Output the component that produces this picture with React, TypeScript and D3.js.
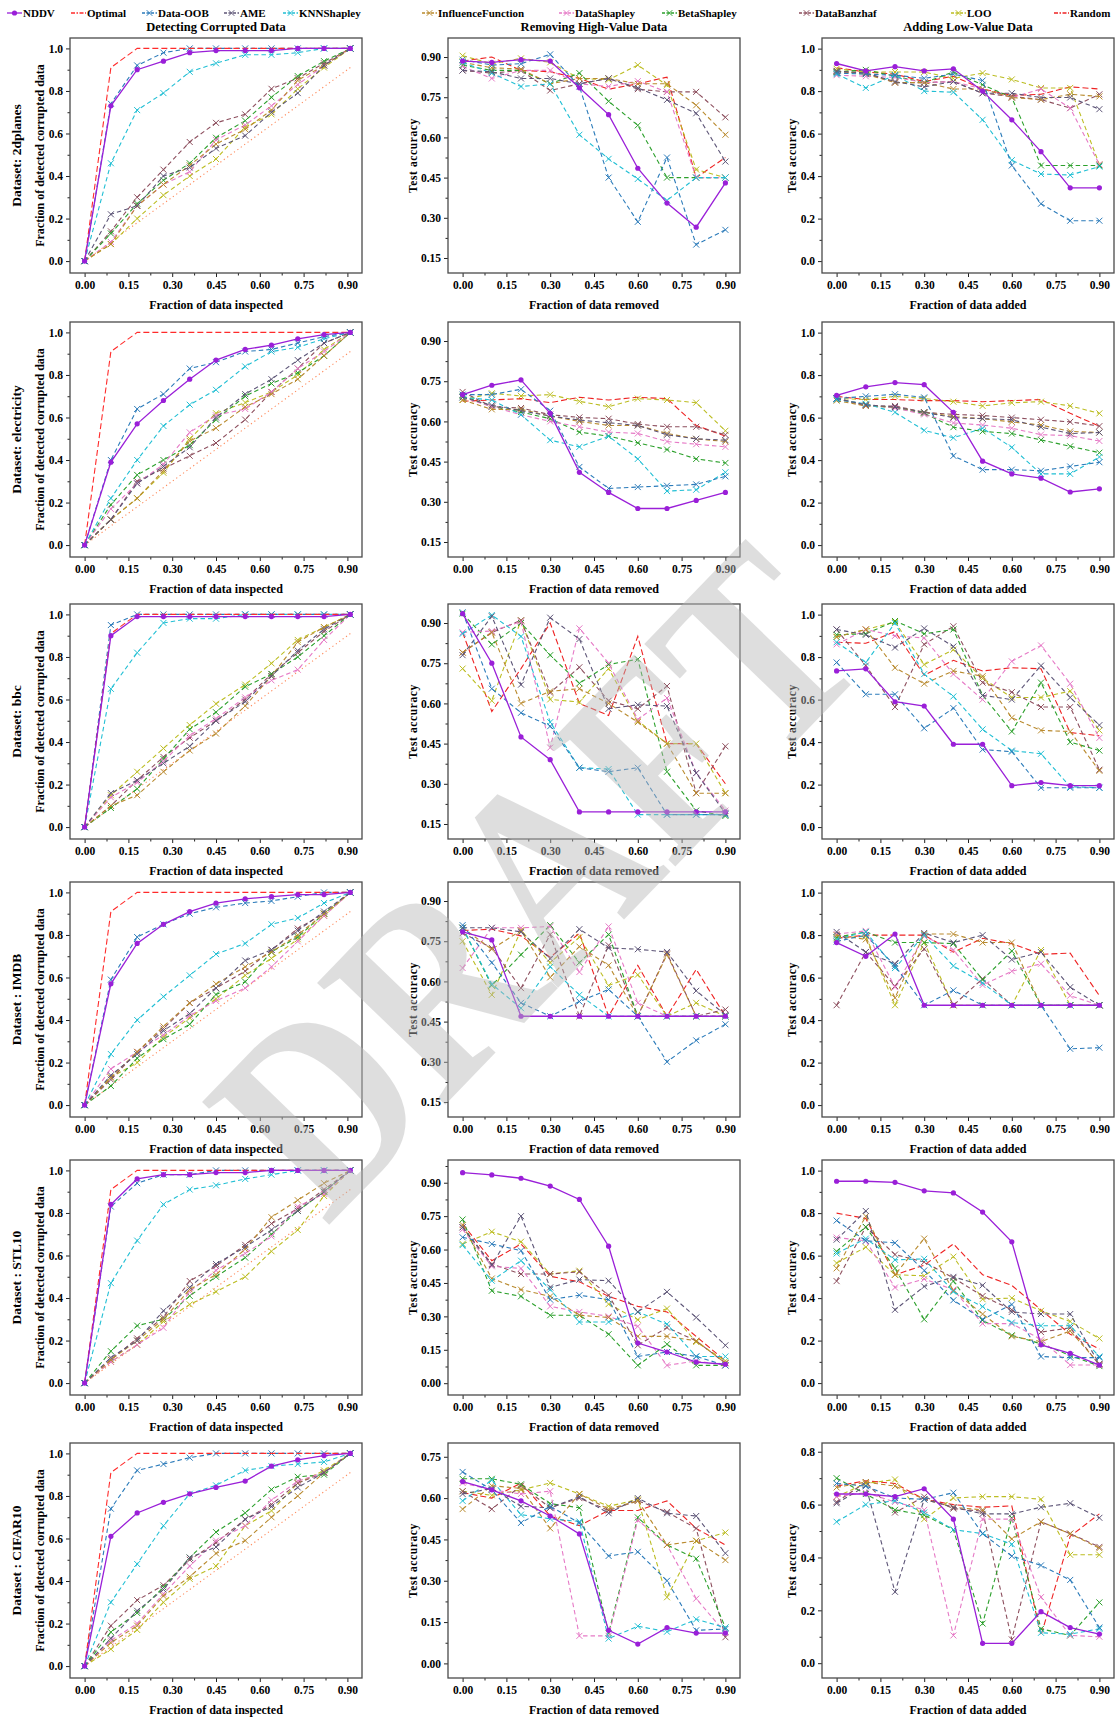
import React, { useEffect, useRef } from 'react';
import * as d3 from 'd3';

// methods, in legend order
const methods = ['NDDV', 'Optimal', 'Data-OOB', 'AME', 'KNNShapley', 'InfluenceFunction', 'DataShapley', 'BetaShapley', 'DataBanzhaf', 'LOO', 'Random'];
const methodColors = ['#9a1fd8', '#ff2b2b', '#2b7bba', '#5d5577', '#21bfd4', '#b98a2e', '#e679c6', '#2ca02c', '#8d4f5e', '#bcbd22', '#ee2222'];
const drawOrder = ['Random', 'LOO', 'DataBanzhaf', 'BetaShapley', 'DataShapley', 'InfluenceFunction', 'KNNShapley', 'AME', 'Data-OOB', 'Optimal', 'NDDV'];

const taskTitles = ['Detecting Corrupted Data', 'Removing High-Value Data', 'Adding Low-Value Data'];
const xTitles = ['Fraction of data inspected', 'Fraction of data removed', 'Fraction of data added'];
const datasetLabels = ['Dataset: 2dplanes', 'Dataset: electricity', 'Dataset: bbc', 'Dataset : IMDB', 'Dataset : STL10', 'Dataset : CIFAR10'];

const xDetect = [0, 0.09, 0.18, 0.27, 0.36, 0.45, 0.55, 0.64, 0.73, 0.82, 0.91];
const xFraction = [0, 0.1, 0.2, 0.3, 0.4, 0.5, 0.6, 0.7, 0.8, 0.9];
const xTicks = [0, 0.15, 0.3, 0.45, 0.6, 0.75, 0.9];
const yTicksUnit = [0, 0.2, 0.4, 0.6, 0.8, 1.0];
const yTicksAcc = [0.15, 0.3, 0.45, 0.6, 0.75, 0.9];
const yTicksAccZero = [0, 0.15, 0.3, 0.45, 0.6, 0.75, 0.9];
const yTicksAcc75 = [0, 0.15, 0.3, 0.45, 0.6, 0.75];
const yTicksAdd8 = [0, 0.2, 0.4, 0.6, 0.8];

const optimalCurve = [0, 0.91, 1, 1, 1, 1, 1, 1, 1, 1, 1];
const randomCurve = [0, 0.09, 0.18, 0.27, 0.36, 0.45, 0.55, 0.64, 0.73, 0.82, 0.91];

// ---- 2dplanes ----
const detect2dplanes = {
  NDDV: [0, 0.73, 0.9, 0.94, 0.98, 0.99, 0.99, 0.99, 1, 1, 1],
  Optimal: optimalCurve,
  'Data-OOB': [0, 0.74, 0.92, 0.98, 1, 1, 1, 1, 1, 1, 1],
  AME: [0, 0.22, 0.26, 0.4, 0.44, 0.53, 0.59, 0.7, 0.79, 0.92, 1],
  KNNShapley: [0, 0.46, 0.71, 0.79, 0.89, 0.93, 0.97, 0.97, 0.98, 1, 1],
  InfluenceFunction: [0, 0.08, 0.26, 0.36, 0.45, 0.55, 0.62, 0.71, 0.85, 0.92, 1],
  DataShapley: [0, 0.09, 0.26, 0.36, 0.42, 0.57, 0.64, 0.73, 0.83, 0.92, 1],
  BetaShapley: [0, 0.13, 0.27, 0.38, 0.46, 0.58, 0.66, 0.77, 0.87, 0.94, 1],
  DataBanzhaf: [0, 0.14, 0.3, 0.43, 0.56, 0.65, 0.69, 0.81, 0.86, 0.93, 1],
  LOO: [0, 0.08, 0.2, 0.31, 0.4, 0.48, 0.63, 0.69, 0.81, 0.91, 1],
  Random: randomCurve,
};
const remove2dplanes = {
  NDDV: [0.885, 0.88, 0.89, 0.885, 0.785, 0.685, 0.485, 0.355, 0.265, 0.43],
  'Data-OOB': [0.89, 0.87, 0.875, 0.91, 0.79, 0.45, 0.285, 0.525, 0.2, 0.255],
  AME: [0.85, 0.845, 0.82, 0.82, 0.8, 0.82, 0.785, 0.74, 0.69, 0.51],
  KNNShapley: [0.88, 0.84, 0.79, 0.8, 0.61, 0.52, 0.445, 0.365, 0.45, 0.45],
  InfluenceFunction: [0.88, 0.86, 0.855, 0.8, 0.82, 0.82, 0.8, 0.8, 0.72, 0.61],
  DataShapley: [0.865, 0.82, 0.85, 0.85, 0.8, 0.79, 0.81, 0.77, 0.45, 0.45],
  BetaShapley: [0.87, 0.85, 0.85, 0.8, 0.84, 0.735, 0.645, 0.45, 0.45, 0.45],
  DataBanzhaf: [0.85, 0.84, 0.85, 0.775, 0.8, 0.82, 0.78, 0.77, 0.77, 0.675],
  LOO: [0.905, 0.875, 0.895, 0.88, 0.82, 0.815, 0.87, 0.795, 0.48, 0.45],
  Random: [0.885, 0.9, 0.85, 0.845, 0.82, 0.78, 0.8, 0.825, 0.45, 0.525],
};
const add2dplanes = {
  NDDV: [0.93, 0.895, 0.915, 0.895, 0.905, 0.8, 0.665, 0.515, 0.345, 0.345],
  'Data-OOB': [0.885, 0.88, 0.875, 0.86, 0.88, 0.85, 0.45, 0.27, 0.19, 0.19],
  AME: [0.895, 0.885, 0.845, 0.82, 0.845, 0.79, 0.79, 0.77, 0.77, 0.715],
  KNNShapley: [0.88, 0.815, 0.875, 0.8, 0.795, 0.665, 0.475, 0.41, 0.405, 0.445],
  InfluenceFunction: [0.895, 0.88, 0.84, 0.84, 0.81, 0.81, 0.77, 0.76, 0.785, 0.775],
  DataShapley: [0.875, 0.87, 0.865, 0.84, 0.845, 0.81, 0.77, 0.81, 0.72, 0.455],
  BetaShapley: [0.89, 0.9, 0.87, 0.84, 0.89, 0.83, 0.77, 0.45, 0.45, 0.45],
  DataBanzhaf: [0.89, 0.885, 0.84, 0.84, 0.845, 0.79, 0.775, 0.76, 0.72, 0.785],
  LOO: [0.905, 0.89, 0.89, 0.89, 0.86, 0.885, 0.855, 0.815, 0.815, 0.455],
  Random: [0.91, 0.89, 0.88, 0.845, 0.87, 0.81, 0.78, 0.785, 0.82, 0.81],
};

// ---- electricity ----
const detectElectricity = {
  NDDV: [0, 0.39, 0.57, 0.68, 0.78, 0.87, 0.92, 0.94, 0.97, 0.99, 1],
  Optimal: optimalCurve,
  'Data-OOB': [0, 0.4, 0.64, 0.71, 0.83, 0.86, 0.91, 0.92, 0.95, 0.98, 1],
  AME: [0, 0.12, 0.29, 0.37, 0.46, 0.6, 0.71, 0.78, 0.87, 0.95, 1],
  KNNShapley: [0, 0.22, 0.4, 0.56, 0.66, 0.73, 0.84, 0.91, 0.93, 0.97, 1],
  InfluenceFunction: [0, 0.12, 0.22, 0.35, 0.49, 0.55, 0.65, 0.71, 0.78, 0.89, 1],
  DataShapley: [0, 0.17, 0.29, 0.38, 0.53, 0.61, 0.64, 0.72, 0.83, 0.91, 1],
  BetaShapley: [0, 0.19, 0.33, 0.4, 0.47, 0.59, 0.7, 0.76, 0.81, 0.89, 1],
  DataBanzhaf: [0, 0.12, 0.3, 0.36, 0.42, 0.48, 0.59, 0.72, 0.83, 0.95, 1],
  LOO: [0, 0.12, 0.22, 0.34, 0.5, 0.62, 0.67, 0.72, 0.8, 0.92, 1],
  Random: randomCurve,
};
const removeElectricity = {
  NDDV: [0.7, 0.735, 0.755, 0.63, 0.41, 0.335, 0.275, 0.275, 0.305, 0.335],
  'Data-OOB': [0.7, 0.7, 0.72, 0.64, 0.43, 0.35, 0.355, 0.36, 0.365, 0.395],
  AME: [0.69, 0.66, 0.64, 0.62, 0.605, 0.595, 0.585, 0.55, 0.535, 0.53],
  KNNShapley: [0.69, 0.68, 0.625, 0.53, 0.505, 0.545, 0.46, 0.34, 0.345, 0.41],
  InfluenceFunction: [0.68, 0.645, 0.645, 0.62, 0.6, 0.585, 0.585, 0.555, 0.535, 0.525],
  DataShapley: [0.69, 0.655, 0.625, 0.6, 0.58, 0.56, 0.555, 0.525, 0.515, 0.505],
  BetaShapley: [0.695, 0.655, 0.635, 0.61, 0.56, 0.545, 0.52, 0.495, 0.46, 0.445],
  DataBanzhaf: [0.71, 0.655, 0.65, 0.625, 0.615, 0.61, 0.59, 0.58, 0.58, 0.55],
  LOO: [0.68, 0.705, 0.695, 0.7, 0.675, 0.655, 0.685, 0.68, 0.67, 0.565],
  Random: [0.675, 0.68, 0.685, 0.67, 0.69, 0.68, 0.69, 0.685, 0.585, 0.545],
};
const addElectricity = {
  NDDV: [0.705, 0.745, 0.765, 0.755, 0.625, 0.395, 0.335, 0.315, 0.25, 0.265],
  'Data-OOB': [0.69, 0.7, 0.71, 0.695, 0.42, 0.355, 0.355, 0.35, 0.37, 0.39],
  AME: [0.69, 0.66, 0.65, 0.625, 0.6, 0.595, 0.59, 0.555, 0.525, 0.53],
  KNNShapley: [0.685, 0.665, 0.625, 0.54, 0.505, 0.55, 0.46, 0.335, 0.335, 0.415],
  InfluenceFunction: [0.68, 0.655, 0.65, 0.625, 0.605, 0.595, 0.58, 0.565, 0.535, 0.53],
  DataShapley: [0.69, 0.66, 0.645, 0.615, 0.575, 0.565, 0.55, 0.52, 0.515, 0.49],
  BetaShapley: [0.69, 0.66, 0.645, 0.62, 0.555, 0.535, 0.525, 0.495, 0.465, 0.435],
  DataBanzhaf: [0.69, 0.655, 0.655, 0.625, 0.615, 0.61, 0.6, 0.59, 0.58, 0.56],
  LOO: [0.69, 0.685, 0.7, 0.69, 0.675, 0.655, 0.67, 0.675, 0.655, 0.62],
  Random: [0.7, 0.685, 0.685, 0.68, 0.68, 0.675, 0.68, 0.685, 0.62, 0.56],
};

// ---- bbc ----
const detectBbc = {
  NDDV: [0, 0.9, 0.99, 0.99, 0.99, 0.99, 0.99, 0.99, 0.99, 0.99, 1],
  Optimal: optimalCurve,
  'Data-OOB': [0, 0.95, 1, 1, 1, 1, 1, 1, 1, 1, 1],
  AME: [0, 0.16, 0.22, 0.3, 0.38, 0.5, 0.59, 0.71, 0.83, 0.93, 1],
  KNNShapley: [0, 0.65, 0.82, 0.96, 0.98, 0.98, 1, 1, 1, 1, 1],
  InfluenceFunction: [0, 0.1, 0.15, 0.26, 0.36, 0.44, 0.57, 0.71, 0.87, 0.94, 1],
  DataShapley: [0, 0.14, 0.21, 0.31, 0.43, 0.51, 0.61, 0.69, 0.74, 0.88, 1],
  BetaShapley: [0, 0.09, 0.18, 0.32, 0.46, 0.54, 0.66, 0.72, 0.8, 0.9, 1],
  DataBanzhaf: [0, 0.1, 0.22, 0.33, 0.42, 0.5, 0.6, 0.72, 0.82, 0.92, 1],
  LOO: [0, 0.15, 0.26, 0.37, 0.48, 0.58, 0.67, 0.77, 0.88, 0.94, 1],
  Random: randomCurve,
};
const removeBbc = {
  NDDV: [0.935, 0.75, 0.475, 0.39, 0.195, 0.195, 0.195, 0.195, 0.195, 0.195],
  'Data-OOB': [0.94, 0.655, 0.565, 0.515, 0.36, 0.345, 0.36, 0.185, 0.185, 0.185],
  AME: [0.78, 0.925, 0.67, 0.92, 0.84, 0.58, 0.595, 0.59, 0.34, 0.19],
  KNNShapley: [0.86, 0.93, 0.85, 0.53, 0.36, 0.355, 0.185, 0.185, 0.185, 0.185],
  InfluenceFunction: [0.79, 0.865, 0.6, 0.645, 0.655, 0.6, 0.53, 0.45, 0.265, 0.265],
  DataShapley: [0.865, 0.87, 0.905, 0.435, 0.88, 0.75, 0.54, 0.62, 0.34, 0.2],
  BetaShapley: [0.935, 0.82, 0.9, 0.78, 0.675, 0.745, 0.765, 0.345, 0.2, 0.18],
  DataBanzhaf: [0.79, 0.865, 0.91, 0.64, 0.735, 0.61, 0.58, 0.665, 0.265, 0.44],
  LOO: [0.73, 0.61, 0.91, 0.615, 0.605, 0.73, 0.535, 0.45, 0.45, 0.265],
  Random: [0.865, 0.57, 0.73, 0.9, 0.6, 0.555, 0.85, 0.45, 0.45, 0.3],
};
const addBbc = {
  NDDV: [0.735, 0.745, 0.59, 0.57, 0.39, 0.39, 0.195, 0.21, 0.195, 0.195],
  'Data-OOB': [0.775, 0.625, 0.625, 0.465, 0.56, 0.365, 0.355, 0.185, 0.185, 0.185],
  AME: [0.93, 0.905, 0.845, 0.935, 0.85, 0.62, 0.6, 0.76, 0.61, 0.48],
  KNNShapley: [0.87, 0.775, 0.96, 0.72, 0.615, 0.46, 0.36, 0.345, 0.19, 0.185],
  InfluenceFunction: [0.895, 0.93, 0.75, 0.675, 0.735, 0.71, 0.515, 0.455, 0.45, 0.265],
  DataShapley: [0.86, 0.93, 0.9, 0.89, 0.72, 0.6, 0.78, 0.855, 0.675, 0.42],
  BetaShapley: [0.905, 0.91, 0.97, 0.91, 0.93, 0.62, 0.45, 0.68, 0.4, 0.36],
  DataBanzhaf: [0.93, 0.76, 0.565, 0.86, 0.945, 0.68, 0.635, 0.565, 0.565, 0.27],
  LOO: [0.895, 0.93, 0.965, 0.765, 0.835, 0.7, 0.61, 0.61, 0.64, 0.455],
  Random: [0.87, 0.865, 0.92, 0.715, 0.785, 0.735, 0.75, 0.745, 0.445, 0.43],
};

// ---- IMDB ----
const detectImdb = {
  NDDV: [0, 0.57, 0.76, 0.85, 0.91, 0.95, 0.97, 0.98, 0.99, 0.99, 1],
  Optimal: optimalCurve,
  'Data-OOB': [0, 0.59, 0.79, 0.85, 0.9, 0.93, 0.95, 0.96, 0.98, 1, 1],
  AME: [0, 0.14, 0.24, 0.35, 0.43, 0.55, 0.68, 0.73, 0.82, 0.91, 1],
  KNNShapley: [0, 0.24, 0.4, 0.51, 0.61, 0.71, 0.76, 0.85, 0.88, 0.95, 1],
  InfluenceFunction: [0, 0.13, 0.25, 0.37, 0.48, 0.57, 0.65, 0.72, 0.8, 0.9, 1],
  DataShapley: [0, 0.17, 0.25, 0.33, 0.42, 0.49, 0.55, 0.65, 0.77, 0.89, 1],
  BetaShapley: [0, 0.09, 0.22, 0.31, 0.38, 0.52, 0.58, 0.72, 0.79, 0.9, 1],
  DataBanzhaf: [0, 0.12, 0.25, 0.36, 0.48, 0.55, 0.63, 0.73, 0.83, 0.9, 1],
  LOO: [0, 0.13, 0.2, 0.32, 0.41, 0.5, 0.61, 0.69, 0.78, 0.89, 1],
  Random: randomCurve,
};
const removeImdb = {
  NDDV: [0.785, 0.755, 0.47, 0.47, 0.47, 0.47, 0.47, 0.47, 0.47, 0.47],
  'Data-OOB': [0.81, 0.67, 0.52, 0.47, 0.525, 0.57, 0.47, 0.3, 0.38, 0.44],
  AME: [0.8, 0.8, 0.785, 0.685, 0.795, 0.725, 0.72, 0.71, 0.565, 0.475],
  KNNShapley: [0.8, 0.59, 0.5, 0.655, 0.55, 0.47, 0.47, 0.47, 0.47, 0.47],
  InfluenceFunction: [0.8, 0.72, 0.79, 0.615, 0.73, 0.66, 0.47, 0.7, 0.47, 0.47],
  DataShapley: [0.65, 0.8, 0.8, 0.805, 0.635, 0.805, 0.52, 0.47, 0.47, 0.47],
  BetaShapley: [0.8, 0.585, 0.7, 0.81, 0.67, 0.775, 0.47, 0.47, 0.47, 0.47],
  DataBanzhaf: [0.78, 0.725, 0.575, 0.775, 0.47, 0.735, 0.47, 0.705, 0.47, 0.495],
  LOO: [0.75, 0.55, 0.79, 0.67, 0.765, 0.585, 0.625, 0.47, 0.52, 0.47],
  Random: [0.79, 0.795, 0.77, 0.69, 0.78, 0.47, 0.66, 0.47, 0.645, 0.47],
};
const addImdb = {
  NDDV: [0.765, 0.7, 0.805, 0.47, 0.47, 0.47, 0.47, 0.47, 0.47, 0.47],
  'Data-OOB': [0.77, 0.8, 0.655, 0.47, 0.54, 0.47, 0.47, 0.47, 0.265, 0.27],
  AME: [0.815, 0.72, 0.665, 0.81, 0.765, 0.8, 0.685, 0.72, 0.555, 0.47],
  KNNShapley: [0.78, 0.815, 0.645, 0.8, 0.655, 0.575, 0.47, 0.47, 0.47, 0.47],
  InfluenceFunction: [0.8, 0.78, 0.505, 0.805, 0.805, 0.765, 0.765, 0.47, 0.47, 0.47],
  DataShapley: [0.805, 0.82, 0.555, 0.795, 0.73, 0.565, 0.63, 0.665, 0.515, 0.47],
  BetaShapley: [0.79, 0.815, 0.765, 0.765, 0.76, 0.59, 0.725, 0.47, 0.47, 0.47],
  DataBanzhaf: [0.47, 0.72, 0.56, 0.735, 0.47, 0.595, 0.47, 0.47, 0.47, 0.47],
  LOO: [0.785, 0.795, 0.47, 0.765, 0.47, 0.47, 0.47, 0.73, 0.47, 0.47],
  Random: [0.785, 0.8, 0.8, 0.8, 0.72, 0.785, 0.76, 0.71, 0.715, 0.515],
};

// ---- STL10 ----
const detectStl10 = {
  NDDV: [0, 0.84, 0.96, 0.98, 0.98, 0.99, 0.99, 1, 1, 1, 1],
  Optimal: optimalCurve,
  'Data-OOB': [0, 0.83, 0.94, 0.98, 0.98, 1, 1, 1, 1, 1, 1],
  AME: [0, 0.12, 0.2, 0.34, 0.45, 0.56, 0.64, 0.72, 0.81, 0.9, 1],
  KNNShapley: [0, 0.47, 0.67, 0.84, 0.91, 0.93, 0.96, 0.98, 1, 1, 1],
  InfluenceFunction: [0, 0.11, 0.2, 0.3, 0.44, 0.51, 0.63, 0.78, 0.86, 0.94, 1],
  DataShapley: [0, 0.1, 0.18, 0.26, 0.43, 0.53, 0.61, 0.69, 0.83, 0.89, 1],
  BetaShapley: [0, 0.15, 0.27, 0.3, 0.41, 0.5, 0.59, 0.7, 0.81, 0.9, 1],
  DataBanzhaf: [0, 0.11, 0.21, 0.31, 0.48, 0.55, 0.65, 0.75, 0.82, 0.91, 1],
  LOO: [0, 0.1, 0.18, 0.29, 0.37, 0.43, 0.5, 0.62, 0.72, 0.88, 1],
  Random: randomCurve,
};
const removeStl10 = {
  NDDV: [0.945, 0.935, 0.92, 0.885, 0.825, 0.615, 0.18, 0.14, 0.095, 0.085],
  'Data-OOB': [0.655, 0.625, 0.595, 0.375, 0.395, 0.375, 0.12, 0.14, 0.12, 0.08],
  AME: [0.7, 0.53, 0.75, 0.43, 0.465, 0.46, 0.32, 0.41, 0.295, 0.17],
  KNNShapley: [0.62, 0.46, 0.55, 0.42, 0.275, 0.275, 0.32, 0.265, 0.12, 0.12],
  InfluenceFunction: [0.71, 0.47, 0.42, 0.39, 0.305, 0.295, 0.21, 0.21, 0.19, 0.09],
  DataShapley: [0.69, 0.525, 0.515, 0.345, 0.32, 0.3, 0.255, 0.08, 0.1, 0.08],
  BetaShapley: [0.735, 0.415, 0.39, 0.305, 0.305, 0.22, 0.08, 0.175, 0.08, 0.08],
  DataBanzhaf: [0.7, 0.535, 0.49, 0.49, 0.5, 0.395, 0.17, 0.25, 0.19, 0.09],
  LOO: [0.625, 0.68, 0.635, 0.49, 0.505, 0.355, 0.285, 0.335, 0.185, 0.1],
  Random: [0.715, 0.55, 0.625, 0.48, 0.455, 0.39, 0.345, 0.32, 0.21, 0.1],
};
const addStl10 = {
  NDDV: [0.95, 0.95, 0.945, 0.905, 0.895, 0.805, 0.665, 0.18, 0.14, 0.085],
  'Data-OOB': [0.765, 0.67, 0.66, 0.53, 0.39, 0.3, 0.37, 0.125, 0.12, 0.12],
  AME: [0.675, 0.81, 0.345, 0.455, 0.5, 0.46, 0.335, 0.325, 0.325, 0.09],
  KNNShapley: [0.61, 0.68, 0.58, 0.585, 0.43, 0.36, 0.285, 0.27, 0.27, 0.125],
  InfluenceFunction: [0.54, 0.785, 0.51, 0.68, 0.435, 0.325, 0.22, 0.195, 0.245, 0.09],
  DataShapley: [0.685, 0.67, 0.45, 0.49, 0.44, 0.28, 0.28, 0.205, 0.085, 0.085],
  BetaShapley: [0.62, 0.735, 0.54, 0.3, 0.48, 0.295, 0.225, 0.185, 0.13, 0.08],
  DataBanzhaf: [0.48, 0.735, 0.605, 0.57, 0.495, 0.41, 0.345, 0.24, 0.26, 0.085],
  LOO: [0.565, 0.64, 0.51, 0.505, 0.595, 0.395, 0.4, 0.34, 0.29, 0.21],
  Random: [0.8, 0.775, 0.51, 0.555, 0.655, 0.51, 0.46, 0.345, 0.23, 0.16],
};

// ---- CIFAR10 ----
const detectCifar10 = {
  NDDV: [0, 0.61, 0.72, 0.77, 0.81, 0.84, 0.87, 0.94, 0.97, 0.99, 1],
  Optimal: optimalCurve,
  'Data-OOB': [0, 0.74, 0.92, 0.95, 0.98, 1, 1, 1, 1, 1, 1],
  AME: [0, 0.13, 0.26, 0.36, 0.51, 0.56, 0.69, 0.75, 0.84, 0.91, 1],
  KNNShapley: [0, 0.3, 0.48, 0.66, 0.81, 0.85, 0.92, 0.94, 0.95, 0.96, 1],
  InfluenceFunction: [0, 0.11, 0.19, 0.33, 0.42, 0.53, 0.59, 0.7, 0.8, 0.91, 1],
  DataShapley: [0, 0.12, 0.2, 0.34, 0.47, 0.59, 0.66, 0.78, 0.87, 0.91, 1],
  BetaShapley: [0, 0.16, 0.25, 0.37, 0.51, 0.63, 0.72, 0.83, 0.89, 0.9, 1],
  DataBanzhaf: [0, 0.19, 0.31, 0.38, 0.5, 0.58, 0.69, 0.76, 0.86, 0.91, 1],
  LOO: [0, 0.08, 0.17, 0.3, 0.41, 0.47, 0.66, 0.73, 0.86, 0.92, 1],
  Random: randomCurve,
};
const removeCifar10 = {
  NDDV: [0.66, 0.63, 0.59, 0.535, 0.47, 0.12, 0.07, 0.13, 0.11, 0.11],
  'Data-OOB': [0.695, 0.63, 0.51, 0.57, 0.51, 0.39, 0.405, 0.3, 0.12, 0.125],
  AME: [0.615, 0.635, 0.57, 0.565, 0.605, 0.545, 0.6, 0.545, 0.535, 0.4],
  KNNShapley: [0.59, 0.665, 0.54, 0.525, 0.515, 0.09, 0.135, 0.115, 0.16, 0.13],
  InfluenceFunction: [0.56, 0.645, 0.635, 0.49, 0.615, 0.56, 0.59, 0.43, 0.445, 0.375],
  DataShapley: [0.655, 0.63, 0.615, 0.625, 0.1, 0.1, 0.52, 0.43, 0.235, 0.11],
  BetaShapley: [0.67, 0.67, 0.65, 0.58, 0.565, 0.11, 0.53, 0.43, 0.38, 0.13],
  DataBanzhaf: [0.625, 0.56, 0.645, 0.565, 0.6, 0.555, 0.59, 0.55, 0.49, 0.095],
  LOO: [0.625, 0.61, 0.63, 0.655, 0.615, 0.57, 0.595, 0.24, 0.445, 0.475],
  Random: [0.62, 0.6, 0.655, 0.535, 0.5, 0.555, 0.555, 0.59, 0.49, 0.43],
};
const addCifar10 = {
  NDDV: [0.64, 0.64, 0.63, 0.66, 0.545, 0.075, 0.075, 0.195, 0.135, 0.11],
  'Data-OOB': [0.68, 0.67, 0.625, 0.62, 0.645, 0.49, 0.405, 0.37, 0.315, 0.135],
  AME: [0.605, 0.67, 0.27, 0.62, 0.59, 0.565, 0.565, 0.59, 0.605, 0.55],
  KNNShapley: [0.535, 0.6, 0.615, 0.57, 0.505, 0.49, 0.45, 0.115, 0.11, 0.13],
  InfluenceFunction: [0.665, 0.685, 0.67, 0.62, 0.59, 0.58, 0.47, 0.535, 0.49, 0.435],
  DataShapley: [0.63, 0.645, 0.61, 0.58, 0.105, 0.545, 0.545, 0.25, 0.105, 0.1],
  BetaShapley: [0.7, 0.64, 0.58, 0.56, 0.505, 0.15, 0.55, 0.13, 0.105, 0.23],
  DataBanzhaf: [0.61, 0.685, 0.57, 0.63, 0.585, 0.575, 0.09, 0.535, 0.49, 0.44],
  LOO: [0.63, 0.68, 0.695, 0.545, 0.625, 0.63, 0.63, 0.62, 0.41, 0.41],
  Random: [0.67, 0.69, 0.68, 0.62, 0.6, 0.59, 0.595, 0.105, 0.48, 0.565],
};

const panelRows = [
  [detect2dplanes, remove2dplanes, add2dplanes],
  [detectElectricity, removeElectricity, addElectricity],
  [detectBbc, removeBbc, addBbc],
  [detectImdb, removeImdb, addImdb],
  [detectStl10, removeStl10, addStl10],
  [detectCifar10, removeCifar10, addCifar10],
];

// layout
const W = 1117;
const HH = 1718;
const colLeft = [70, 448, 822];
const rowTop = [38, 322, 604, 882, 1160, 1443];
const PW = 292;
const PH = 235;
const FONT = "'Liberation Serif', 'Times New Roman', serif";

type AxisCfg = { domain: [number, number]; ticks: number[]; fmt: string };
const detectAxis: AxisCfg = { domain: [-0.056, 1.049], ticks: yTicksUnit, fmt: '.1f' };
const removeAxes: AxisCfg[] = [
  { domain: [0.094, 0.971], ticks: yTicksAcc, fmt: '.2f' },
  { domain: [0.094, 0.971], ticks: yTicksAcc, fmt: '.2f' },
  { domain: [0.094, 0.971], ticks: yTicksAcc, fmt: '.2f' },
  { domain: [0.094, 0.971], ticks: yTicksAcc, fmt: '.2f' },
  { domain: [-0.053, 1.002], ticks: yTicksAccZero, fmt: '.2f' },
  { domain: [-0.053, 0.8], ticks: yTicksAcc75, fmt: '.2f' },
];
const addAxes: AxisCfg[] = [
  { domain: [-0.056, 1.05], ticks: yTicksUnit, fmt: '.1f' },
  { domain: [-0.056, 1.05], ticks: yTicksUnit, fmt: '.1f' },
  { domain: [-0.056, 1.05], ticks: yTicksUnit, fmt: '.1f' },
  { domain: [-0.056, 1.05], ticks: yTicksUnit, fmt: '.1f' },
  { domain: [-0.056, 1.05], ticks: yTicksUnit, fmt: '.1f' },
  { domain: [-0.056, 0.833], ticks: yTicksAdd8, fmt: '.1f' },
];

function midpoints(t: number[], extra: boolean) {
  const out: number[] = [];
  for (let i = 0; i < t.length - 1; i++) out.push((t[i] + t[i + 1]) / 2);
  if (extra) out.push(t[t.length - 1] + (t[1] - t[0]) / 2);
  return out;
}

function crossPath(s: number) {
  return `M${-s},${-s}L${s},${s}M${-s},${s}L${s},${-s}`;
}

const App = () => {
  const svgRef = useRef<SVGSVGElement>(null);

  useEffect(() => {
    const svg = d3.select(svgRef.current);
    svg.selectAll('*').remove();
    svg.append('rect').attr('width', W).attr('height', HH).attr('fill', '#fff');

    const colorOf = (m: string) => methodColors[methods.indexOf(m)];
    const dashOf = (m: string, col: number) => {
      if (m === 'NDDV') return null;
      if (m === 'Random' && col === 0) return '1.2,3';
      if (m === 'Optimal' || m === 'Random') return '6,3';
      return '4.5,3';
    };

    // legend
    const legendX = [7, 71, 142, 224, 283, 422, 559, 662, 799, 951, 1054];
    const lg = svg.append('g');
    methods.forEach((m, i) => {
      const x0 = legendX[i];
      const c = colorOf(m);
      lg.append('line').attr('x1', x0).attr('x2', x0 + 15).attr('y1', 13).attr('y2', 13)
        .attr('stroke', c).attr('stroke-width', 1.3)
        .attr('stroke-dasharray', m === 'NDDV' ? null : (m === 'Optimal' || m === 'Random') ? '4,1.5,1.5,1.5' : '3,1.5');
      if (m === 'NDDV') {
        lg.append('circle').attr('cx', x0 + 7.5).attr('cy', 13).attr('r', 2.6).attr('fill', c);
      } else if (m !== 'Optimal' && m !== 'Random') {
        lg.append('path').attr('d', crossPath(2.8)).attr('transform', `translate(${x0 + 7.5},13)`)
          .attr('stroke', c).attr('stroke-width', 1).attr('fill', 'none');
      }
      lg.append('text').attr('x', x0 + 16).attr('y', 16.5).text(m)
        .attr('font-family', FONT).attr('font-weight', 'bold').attr('font-size', 11).attr('fill', '#000');
    });

    // column titles
    taskTitles.forEach((t, c) => {
      svg.append('text').attr('x', colLeft[c] + PW / 2).attr('y', 31).attr('text-anchor', 'middle')
        .attr('font-family', FONT).attr('font-weight', 'bold').attr('font-size', 12.5).text(t);
    });

    panelRows.forEach((row, r) => {
      row.forEach((data: Record<string, number[]>, c) => {
        const left = colLeft[c];
        const top = rowTop[r];
        const cfg = c === 0 ? detectAxis : c === 1 ? removeAxes[r] : addAxes[r];
        const xs = c === 0 ? xDetect : xFraction;
        const x = d3.scaleLinear().domain([-0.05, 0.95]).range([0, PW]);
        const y = d3.scaleLinear().domain(cfg.domain).range([PH, 0]);
        const g = svg.append('g').attr('transform', `translate(${left},${top})`);

        // axes
        const styleAxis = (sel: any) => {
          sel.select('.domain').remove();
          sel.selectAll('line').attr('stroke', '#222').attr('stroke-width', 1);
          sel.selectAll('text').attr('font-family', FONT).attr('font-weight', 'bold')
            .attr('font-size', 11.5).attr('fill', '#000');
        };
        g.append('g').attr('transform', `translate(0,${PH})`)
          .call(d3.axisBottom(x).tickValues(xTicks).tickFormat(d3.format('.2f')).tickSize(4).tickPadding(4))
          .call(styleAxis);
        g.append('g').attr('transform', `translate(0,${PH})`)
          .call(d3.axisBottom(x).tickValues(midpoints(xTicks, false)).tickFormat(() => '').tickSize(2.5))
          .call(styleAxis);
        g.append('g')
          .call(d3.axisLeft(y).tickValues(cfg.ticks).tickFormat(d3.format(cfg.fmt)).tickSize(4).tickPadding(3))
          .call(styleAxis);
        const yMinor = midpoints(cfg.ticks, true).filter((v) => v < cfg.domain[1]);
        g.append('g')
          .call(d3.axisLeft(y).tickValues(yMinor).tickFormat(() => '').tickSize(2.5))
          .call(styleAxis);

        // series
        const line = d3.line<number>().x((_, i) => x(xs[i])).y((d) => y(d));
        drawOrder.forEach((m) => {
          const vals = data[m];
          if (!vals) return;
          const col = colorOf(m);
          const isDotRandom = m === 'Random' && c === 0;
          g.append('path').attr('d', line(vals)).attr('fill', 'none')
            .attr('stroke', isDotRandom ? '#ff8a5b' : col)
            .attr('stroke-width', m === 'NDDV' ? 1.3 : 1.1)
            .attr('stroke-dasharray', dashOf(m, c));
          if (m === 'NDDV') {
            g.selectAll(null).data(vals).enter().append('circle')
              .attr('cx', (_, i) => x(xs[i])).attr('cy', (d) => y(d)).attr('r', 2.6).attr('fill', col);
          } else if (m !== 'Optimal' && m !== 'Random') {
            g.selectAll(null).data(vals).enter().append('path')
              .attr('d', crossPath(3))
              .attr('transform', (d, i) => `translate(${x(xs[i])},${y(d)})`)
              .attr('stroke', col).attr('stroke-width', 1).attr('fill', 'none');
          }
        });

        // frame
        g.append('rect').attr('width', PW).attr('height', PH).attr('fill', 'none')
          .attr('stroke', '#4a4a4a').attr('stroke-width', 1.3);

        // axis titles
        g.append('text').attr('x', PW / 2).attr('y', PH + 36).attr('text-anchor', 'middle')
          .attr('font-family', FONT).attr('font-weight', 'bold').attr('font-size', 12).text(xTitles[c]);
        if (c === 0) {
          g.append('text').attr('transform', `translate(${40 - left},${PH / 2}) rotate(-90)`)
            .attr('text-anchor', 'middle').attr('dy', '0.35em')
            .attr('font-family', FONT).attr('font-weight', 'bold').attr('font-size', 12)
            .text('Fraction of detected corrupted data');
          g.append('text').attr('transform', `translate(${16 - left},${PH / 2}) rotate(-90)`)
            .attr('text-anchor', 'middle').attr('dy', '0.35em')
            .attr('font-family', FONT).attr('font-weight', 'bold').attr('font-size', 13.5)
            .text(datasetLabels[r]);
        } else {
          const lx = c === 1 ? 413 : 792;
          g.append('text').attr('transform', `translate(${lx - left},${PH / 2}) rotate(-90)`)
            .attr('text-anchor', 'middle').attr('dy', '0.35em')
            .attr('font-family', FONT).attr('font-weight', 'bold').attr('font-size', 11.5)
            .attr('letter-spacing', 0.6)
            .text('Test accuracy');
        }
      });
    });

    // watermark
    svg.append('text').attr('transform', 'translate(535,880) rotate(-46)')
      .attr('text-anchor', 'middle').attr('dominant-baseline', 'central')
      .attr('font-family', FONT).attr('font-weight', 'bold').attr('font-size', 270)
      .attr('textLength', 790).attr('lengthAdjust', 'spacingAndGlyphs')
      .attr('fill', '#b8b8b8').attr('opacity', 0.45).text('DRAFT');
  }, []);

  return (
    <svg ref={svgRef} width={W} height={HH} style={{ position: 'absolute', left: 0, top: 0 }} />
  );
};

export default App;
